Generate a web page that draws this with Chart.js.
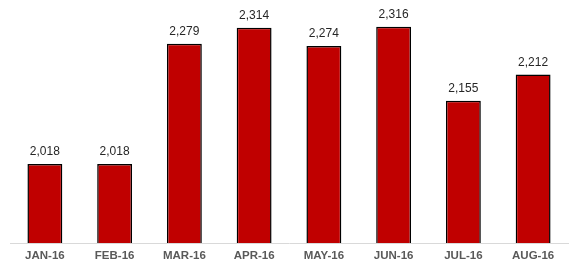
<!DOCTYPE html>
<html>
<head>
<meta charset="utf-8">
<script src="https://cdn.jsdelivr.net/npm/chart.js@4/dist/chart.umd.min.js"></script>
<style>
  html, body { margin: 0; padding: 0; background: #ffffff; }
  #wrap { width: 578px; height: 269px; position: relative; }
</style>
</head>
<body>
<div id="wrap"><canvas id="c"></canvas></div>
<script>
const categories = ["JAN-16", "FEB-16", "MAR-16", "APR-16", "MAY-16", "JUN-16", "JUL-16", "AUG-16"];
const values = [2018, 2018, 2279, 2314, 2274, 2316, 2155, 2212];
const axisMin = 1846;
const axisMax = 2374;

const valueLabels = {
  id: 'valueLabels',
  afterDatasetsDraw(chart) {
    const ctx = chart.ctx;
    const meta = chart.getDatasetMeta(0);
    ctx.save();
    ctx.font = '12px "Liberation Sans", Arial, sans-serif';
    ctx.fillStyle = '#262626';
    ctx.textAlign = 'center';
    ctx.textBaseline = 'bottom';
    meta.data.forEach((bar, i) => {
      ctx.fillText(values[i].toLocaleString('en-US'), bar.x, bar.y - 6);
    });
    ctx.restore();
  }
};

new Chart(document.getElementById('c'), {
  type: 'bar',
  data: {
    labels: categories,
    datasets: [{
      data: values,
      backgroundColor: '#C00000',
      borderColor: '#000000',
      borderWidth: 1.5,
      borderSkipped: false,
      barPercentage: 0.5,
      categoryPercentage: 1.0
    }]
  },
  options: {
    responsive: true,
    maintainAspectRatio: false,
    animation: false,
    layout: { padding: { left: 10, right: 10, top: 0, bottom: 0 } },
    plugins: { legend: { display: false }, tooltip: { enabled: false } },
    scales: {
      x: {
        grid: { display: false, drawTicks: false },
        border: { display: true, color: '#d9d9d9', width: 1, z: 1 },
        ticks: {
          color: '#595959',
          padding: 6,
          font: { family: '"Liberation Sans", Arial, sans-serif', size: 11.5, weight: 'bold' }
        }
      },
      y: {
        display: false,
        min: axisMin,
        max: axisMax
      }
    }
  },
  plugins: [valueLabels]
});
</script>
</body>
</html>
